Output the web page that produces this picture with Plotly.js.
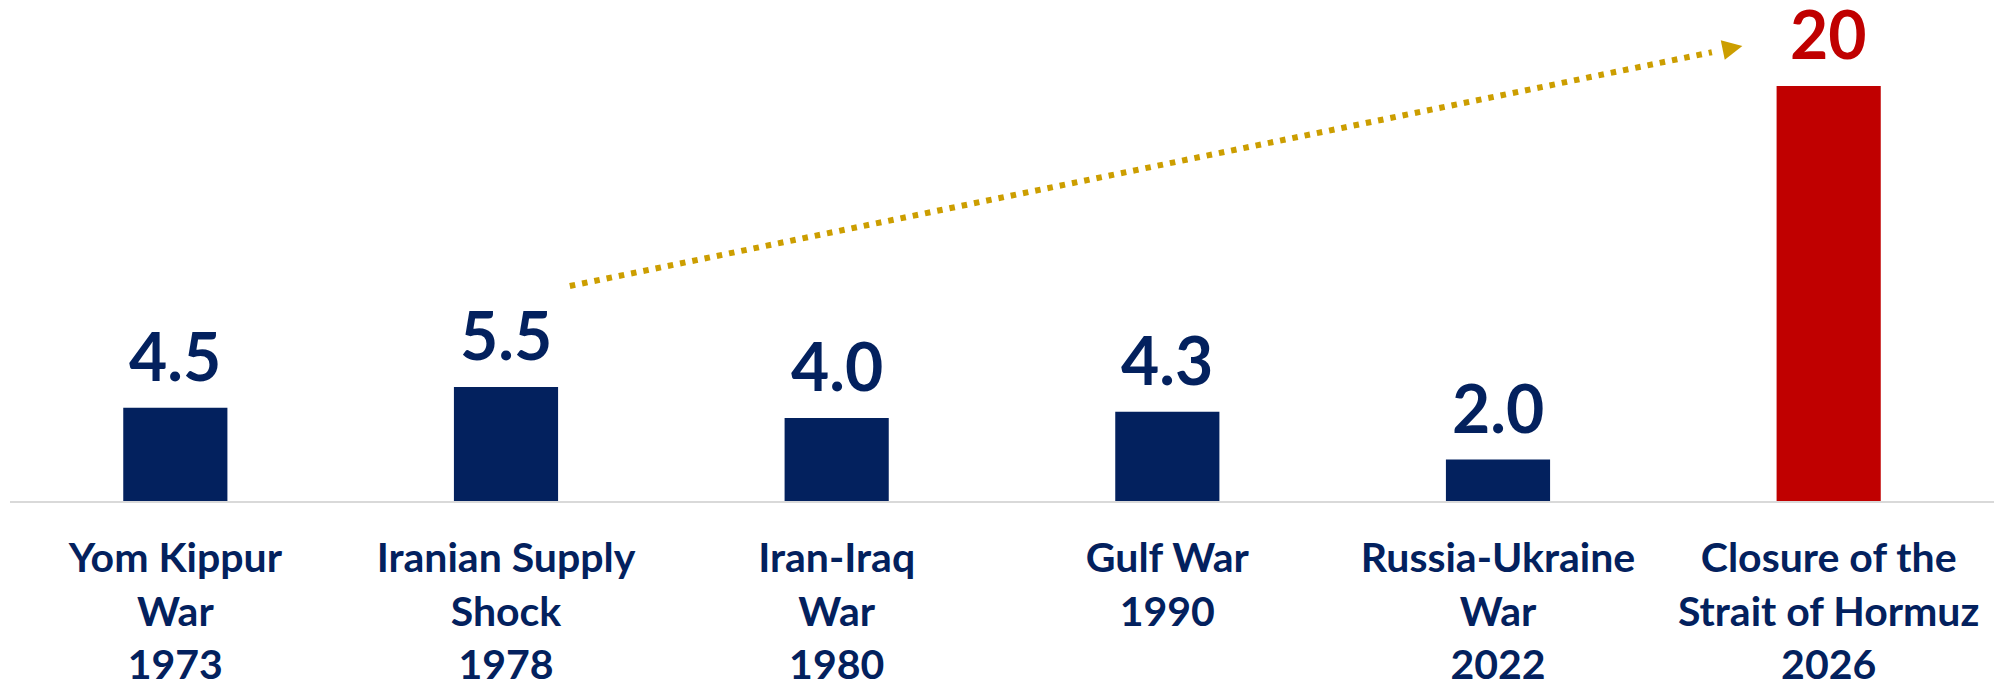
<!DOCTYPE html>
<html>
<head>
<meta charset="utf-8">
<script src="https://cdn.plot.ly/plotly-3.0.1.min.js"></script>
<style>
  html, body { margin: 0; padding: 0; background: #fff; }
  #chart { width: 2003px; height: 682px; }
</style>
</head>
<body>
<div id="chart"></div>
<script>
// events and their estimated supply disruption
const categories = [
  'Yom Kippur<br>War<br>1973',
  'Iranian Supply<br>Shock<br>1978',
  'Iran-Iraq<br>War<br>1980',
  'Gulf War<br>1990',
  'Russia-Ukraine<br>War<br>2022',
  'Closure of the<br>Strait of Hormuz<br>2026'
]
const values = [4.5, 5.5, 4.0, 4.3, 2.0, 20]
const valueLabels = ['4.5', '5.5', '4.0', '4.3', '2.0', '20']
const barColors = ['#03215E', '#03215E', '#03215E', '#03215E', '#03215E', '#C00000']

// dotted arrow, in category index / value units
const arrowStart = [1.193, 10.36]
const arrowEnd = [4.739, 21.93]

const navy = '#03215E'
const gold = '#CC9E00'
const font = 'Lato, "Open Sans", sans-serif'

const trace = {
  x: categories,
  y: values,
  type: 'bar',
  marker: { color: barColors },
  hoverinfo: 'none'
}

// value labels above bars
const labelAnns = values.map((v, i) => ({
  x: categories[i],
  y: v,
  text: '<b>' + valueLabels[i] + '</b>',
  showarrow: false,
  yanchor: 'bottom',
  yshift: 11,
  font: { family: font, size: 66, color: barColors[i] }
}))

// arrow head: short shaft hidden under the head
const back = 0.013
const headAnn = {
  x: arrowEnd[0],
  y: arrowEnd[1],
  ax: arrowEnd[0] - back * (arrowEnd[0] - arrowStart[0]),
  ay: arrowEnd[1] - back * (arrowEnd[1] - arrowStart[1]),
  xref: 'x', yref: 'y', axref: 'x', ayref: 'y',
  showarrow: true,
  arrowhead: 2,
  arrowsize: 2,
  arrowwidth: 2,
  arrowcolor: gold,
  text: ''
}

const layout = {
  width: 2003,
  height: 682,
  margin: { l: 10, r: 9, t: 3, b: 181 },
  paper_bgcolor: '#fff',
  plot_bgcolor: '#fff',
  showlegend: false,
  bargap: 0.685,
  xaxis: {
    type: 'category',
    showgrid: false,
    showline: true,
    linecolor: '#D9D9D9',
    linewidth: 2,
    ticks: '',
    ticklabelstandoff: 20,
    tickfont: { family: font, size: 41, color: navy, weight: 'bold' },
    fixedrange: true
  },
  yaxis: {
    range: [0, 24],
    showgrid: false,
    zeroline: false,
    showticklabels: false,
    fixedrange: true
  },
  shapes: [{
    type: 'line',
    xref: 'x', yref: 'y',
    x0: arrowStart[0], y0: arrowStart[1],
    x1: arrowEnd[0] - 2 * back * (arrowEnd[0] - arrowStart[0]),
    y1: arrowEnd[1] - 2 * back * (arrowEnd[1] - arrowStart[1]),
    line: { color: gold, width: 6, dash: '5.5px,7px' }
  }],
  annotations: labelAnns.concat([headAnn])
}

Plotly.newPlot('chart', [trace], layout, { displayModeBar: false, staticPlot: true })
</script>
</body>
</html>
